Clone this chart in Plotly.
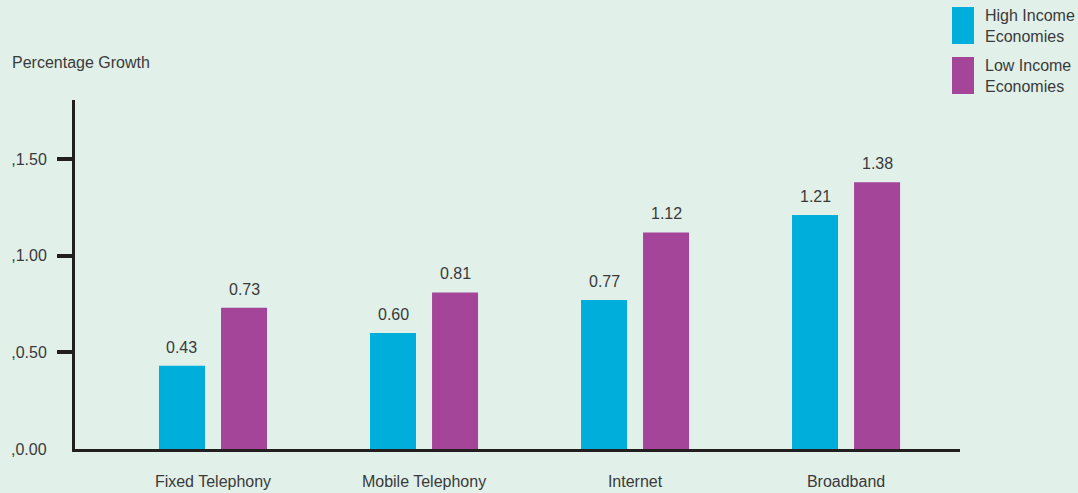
import plotly.graph_objects as go

categories = ["Fixed Telephony", "Mobile Telephony", "Internet", "Broadband"]
high_income = [0.43, 0.60, 0.77, 1.21]
low_income = [0.73, 0.81, 1.12, 1.38]
series_names = ["High Income<br>Economies", "Low Income<br>Economies"]
y_tick_vals = [0.5, 1.0, 1.5]
y_tick_text = [",0.50", ",1.00", ",1.50"]
zero_label = ",0.00"
y_title = "Percentage Growth"

CYAN = "#00aedb"
MAGENTA = "#a4459a"
BG = "#e1f0e9"
AXIS = "#231f20"
TXT = "#3a3a3a"
FONT = "Liberation Sans, Arial, sans-serif"
FS = 16

W, H = 1078, 493
L, R, T, B = 75, 960, 100, 449  # plot area in pixels


def px(x):
    return (x - L) / (R - L)


def py(y):
    return (B - y) / (B - T)


bar_w = 0.218
off = 0.147
idx = list(range(len(categories)))

fig = go.Figure()
for vals, color, sign in [(high_income, CYAN, -1), (low_income, MAGENTA, 1)]:
    xs = [i + sign * off for i in idx]
    fig.add_trace(go.Bar(x=xs, y=vals, width=bar_w, marker=dict(color=color, line=dict(width=0)),
                         showlegend=False, hoverinfo="y"))
    for xv, yv in zip(xs, vals):
        fig.add_annotation(x=xv, y=yv, xref="x", yref="y", text=f"{yv:.2f}", showarrow=False,
                           yanchor="bottom", yshift=8, font=dict(family=FONT, size=FS, color=TXT))

fig.update_layout(
    width=W, height=H,
    margin=dict(l=L, r=W - R, t=T, b=H - B, pad=0, autoexpand=False),
    paper_bgcolor=BG, plot_bgcolor=BG,
    barmode="overlay",
    font=dict(family=FONT, size=FS, color=TXT),
    showlegend=False,
)
fig.update_xaxes(range=[-0.654, 3.540], tickvals=idx, ticktext=categories, ticks="",
                 showline=True, linecolor=AXIS, linewidth=3, showgrid=False, zeroline=False,
                 automargin=False, ticklabelstandoff=16, tickfont=dict(family=FONT, size=FS, color=TXT))
fig.update_yaxes(range=[0, 1.805], tickvals=y_tick_vals, ticktext=y_tick_text, ticks="outside",
                 ticklen=15, tickwidth=3.5, tickcolor=AXIS, showline=True, linecolor=AXIS, linewidth=3,
                 showgrid=False, zeroline=False, automargin=False, ticklabelstandoff=7,
                 tickfont=dict(family=FONT, size=FS, color=TXT))

# zero label
fig.add_annotation(x=px(49), y=0, xref="paper", yref="y", text=zero_label, showarrow=False,
                   xanchor="right", yanchor="middle", font=dict(family=FONT, size=FS, color=TXT))
# y title
fig.add_annotation(x=px(10), y=py(62), xref="paper", yref="paper", text=y_title, showarrow=False,
                   xanchor="left", yanchor="middle", font=dict(family=FONT, size=FS, color=TXT))

# legend
for k, (name, color) in enumerate(zip(series_names, [CYAN, MAGENTA])):
    top = 7 + k * 50
    fig.add_shape(type="rect", xref="paper", yref="paper", x0=px(952), x1=px(974),
                  y0=py(top + 37), y1=py(top), fillcolor=color, line=dict(width=0))
    fig.add_annotation(x=px(983), y=py(top + 18.5), xref="paper", yref="paper", text=name,
                       showarrow=False, xanchor="left", yanchor="middle", align="left",
                       font=dict(family=FONT, size=FS, color=TXT))

fig.write_html("out.html", config={"displayModeBar": False},
               post_script="document.body.style.margin='0';document.body.style.background='%s';" % BG)
